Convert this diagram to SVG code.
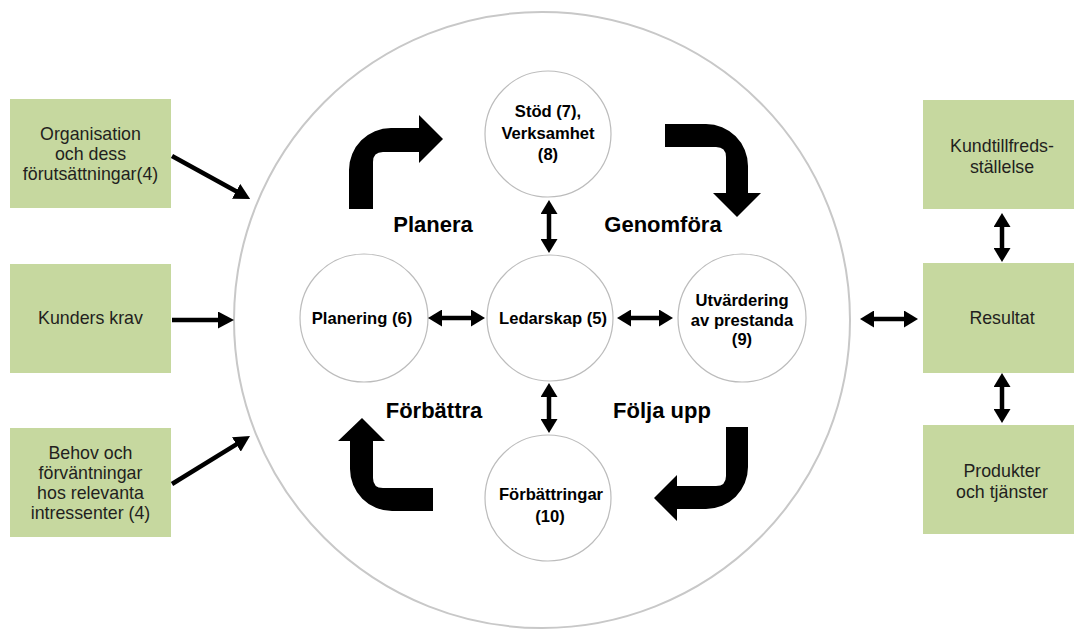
<svg xmlns="http://www.w3.org/2000/svg" width="1074" height="630" viewBox="0 0 1074 630">
<style>
.box{fill:#c6d89f}
.bt{font-family:"Liberation Sans",Arial,sans-serif;font-size:17.8px;fill:#231f20;text-anchor:middle}
.ct{font-family:"Liberation Sans",Arial,sans-serif;font-size:16.6px;font-weight:bold;fill:#000;text-anchor:middle}
.ht{font-family:"Liberation Sans",Arial,sans-serif;font-size:22px;font-weight:bold;fill:#000;text-anchor:middle}
.sc{fill:#fff;stroke:#bcbcbc;stroke-width:1.2}
.ln{stroke:#000;stroke-width:4.5;fill:none}
.ln2{stroke:#000;stroke-width:4.5;fill:none}
.big{fill:#000}
</style>
<defs>
<marker id="ah" viewBox="0 0 14 17" refX="1" refY="8.5" markerWidth="14" markerHeight="17" markerUnits="userSpaceOnUse" orient="auto-start-reverse">
<path d="M0,0 L14,8.5 L0,17 Z" fill="#000"/>
</marker>
<marker id="ah2" viewBox="0 0 16 17" refX="1" refY="8.5" markerWidth="16" markerHeight="17" markerUnits="userSpaceOnUse" orient="auto">
<path d="M0,0 L16,8.5 L0,17 Z" fill="#000"/>
</marker>
</defs>
<rect width="1074" height="630" fill="#fff"/>

<g id="outer-circle">
<circle cx="542" cy="320" r="308" fill="#fff" stroke="#c8c8c8" stroke-width="2"/>
</g>

<g id="box-organisation">
<rect class="box" x="10" y="99" width="161" height="109"/>
<text class="bt" x="90.5" y="140">Organisation</text>
<text class="bt" x="90.5" y="160">och dess</text>
<text class="bt" x="90.5" y="180">förutsättningar(4)</text>
</g>
<g id="box-kunders-krav">
<rect class="box" x="10" y="264" width="161" height="109"/>
<text class="bt" x="90.5" y="324">Kunders krav</text>
</g>
<g id="box-behov">
<rect class="box" x="10" y="428" width="161" height="109"/>
<text class="bt" x="90.5" y="459">Behov och</text>
<text class="bt" x="90.5" y="479">förväntningar</text>
<text class="bt" x="90.5" y="499">hos relevanta</text>
<text class="bt" x="90.5" y="519">intressenter (4)</text>
</g>

<g id="box-kundtillfredsstallelse">
<rect class="box" x="923" y="100" width="161" height="109"/>
<text class="bt" x="1002" y="152">Kundtillfreds-</text>
<text class="bt" x="1002" y="173">ställelse</text>
</g>
<g id="box-resultat">
<rect class="box" x="923" y="263" width="161" height="110"/>
<text class="bt" x="1002" y="324">Resultat</text>
</g>
<g id="box-produkter">
<rect class="box" x="923" y="425" width="161" height="109"/>
<text class="bt" x="1002" y="477">Produkter</text>
<text class="bt" x="1002" y="498">och tjänster</text>
</g>

<g id="node-stod">
<circle class="sc" cx="548" cy="134" r="63"/>
<text class="ct" x="548" y="117">Stöd (7),</text>
<text class="ct" x="548" y="139">Verksamhet</text>
<text class="ct" x="548" y="160">(8)</text>
</g>
<g id="node-planering">
<circle class="sc" cx="364" cy="318" r="64"/>
<text class="ct" x="362" y="324">Planering (6)</text>
</g>
<g id="node-ledarskap">
<circle class="sc" cx="550" cy="318" r="63"/>
<text class="ct" x="553" y="324">Ledarskap (5)</text>
</g>
<g id="node-utvardering">
<circle class="sc" cx="742" cy="318" r="64"/>
<text class="ct" x="742" y="306">Utvärdering</text>
<text class="ct" x="742" y="326">av prestanda</text>
<text class="ct" x="742" y="345">(9)</text>
</g>
<g id="node-forbattringar">
<circle class="sc" cx="548" cy="498" r="63"/>
<text class="ct" x="551" y="500">Förbättringar</text>
<text class="ct" x="550" y="522">(10)</text>
</g>

<g id="cycle-arrows">
<path class="big" d="M349,209 L349,170 A42,42 0 0 1 391,128 L419,128 L419,115 L443,139 L419,163 L419,152 L383,152 Q373,152 373,162 L373,209 Z"/>
<path class="big" d="M665,124 L706,124 A42,42 0 0 1 748,166 L748,193 L761,193 L737,217 L713,193 L726,193 L726,157 Q726,147 716,147 L665,147 Z"/>
<path class="big" d="M433,511 L392,511 A42,42 0 0 1 350,469 L350,441 L338,441 L362,418 L385,441 L373,441 L373,478 Q373,488 383,488 L433,488 Z"/>
<path class="big" d="M748,427 L748,467 A42,42 0 0 1 706,509 L677,509 L677,521 L654,498 L677,475 L677,486 L716,486 Q726,486 726,476 L726,427 Z"/>
<text class="ht" x="433" y="232">Planera</text>
<text class="ht" x="663" y="232">Genomföra</text>
<text class="ht" x="434" y="418">Förbättra</text>
<text class="ht" x="662" y="418">Följa upp</text>
</g>

<g id="connectors">
<line class="ln2" x1="172" y1="156" x2="237" y2="191.8" marker-end="url(#ah2)"/>
<line class="ln2" x1="172" y1="320" x2="219" y2="320" marker-end="url(#ah2)"/>
<line class="ln2" x1="172" y1="484" x2="237.2" y2="443.9" marker-end="url(#ah2)"/>
<line class="ln" x1="441" y1="318" x2="472" y2="318" marker-start="url(#ah)" marker-end="url(#ah)"/>
<line class="ln" x1="630" y1="318" x2="660" y2="318" marker-start="url(#ah)" marker-end="url(#ah)"/>
<line class="ln" x1="873" y1="319" x2="905" y2="319" marker-start="url(#ah)" marker-end="url(#ah)"/>
<line class="ln" x1="549" y1="213" x2="549" y2="240" marker-start="url(#ah)" marker-end="url(#ah)"/>
<line class="ln" x1="549" y1="396" x2="549" y2="420" marker-start="url(#ah)" marker-end="url(#ah)"/>
<line class="ln" x1="1002" y1="226" x2="1002" y2="249" marker-start="url(#ah)" marker-end="url(#ah)"/>
<line class="ln" x1="1002" y1="386" x2="1002" y2="410" marker-start="url(#ah)" marker-end="url(#ah)"/>
</g>
</svg>
